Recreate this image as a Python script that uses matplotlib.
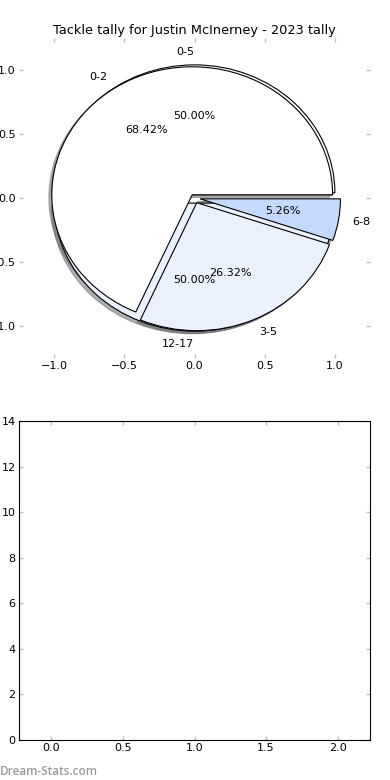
import numpy as np
import matplotlib
matplotlib.use('Agg')
import matplotlib.pyplot as plt

# tally data
tally_labels = ['0-2', '3-5', '6-8']
tally_counts = [13, 5, 1]
tally_explode = [0.03, 0.04, 0.04]
tally_colors = ['white', '#eaf1fd', '#c5d9fc']

other_labels = ['0-5', '12-17']
other_counts = [1, 1]
other_explode = [0.04, 0.04]
other_colors = ['white', '#eaf1fd']

pie_ticks = [-1.0, -0.5, 0.0, 0.5, 1.0]
bar_xticks = [0.0, 0.5, 1.0, 1.5, 2.0]
bar_yticks = [0, 2, 4, 6, 8, 10, 12, 14]

plt.rcParams['font.size'] = 8

fig = plt.figure(figsize=(3.9, 7.8), dpi=100)
ax1 = fig.add_axes([19/390, 422/780, 351/390, 320/780])
ax2 = fig.add_axes([19/390, 40/780, 351/390, 319/780])

wp = {'edgecolor': 'black', 'linewidth': 0.8}
sh = {'ox': -0.015, 'oy': -0.015, 'shade': 0.6}
w2, t2, a2 = ax1.pie(other_counts, labels=other_labels, explode=other_explode,
                     colors=other_colors, autopct='%1.2f%%', shadow=sh,
                     wedgeprops=wp, textprops={'fontsize': 8})
ax1.pie(tally_counts, labels=tally_labels, explode=tally_explode, colors=tally_colors,
        autopct='%1.2f%%', shadow=sh, wedgeprops=wp, textprops={'fontsize': 8})
# bottom label sits left of centre like the original
t2[1].set_ha('right')

ax1.set_aspect('auto')
ax1.set_xlim(-1.25, 1.25)
ax1.set_ylim(-1.25, 1.25)
ax1.set_xticks(pie_ticks)
ax1.set_yticks(pie_ticks)
ax1.set_xticklabels(['\u22121.0', '\u22120.5', '0.0', '0.5', '1.0'])
ax1.set_yticklabels(['\u22121.0', '\u22120.5', '0.0', '0.5', '1.0'])
for s in ax1.spines.values():
    s.set_visible(False)
ax1.set_title('Tackle tally for Justin McInerney - 2023 tally', fontsize=9.3, pad=3)

ax2.set_xlim(-0.225, 2.225)
ax2.set_ylim(0, 14)
ax2.set_xticks(bar_xticks)
ax2.set_yticks(bar_yticks)

for ax in (ax1, ax2):
    ax.tick_params(direction='in', length=3, width=1, color='#c0c0c0',
                   top=True, right=True, labelsize=8, pad=2.5)

fig.text(0.0, 0.006, 'Dream-Stats.com', fontsize=8.5, color='#9a9a9a',
         fontweight='semibold', family=['Open Sans', 'DejaVu Sans'])

fig.savefig('out.png', dpi=100, facecolor='white')
